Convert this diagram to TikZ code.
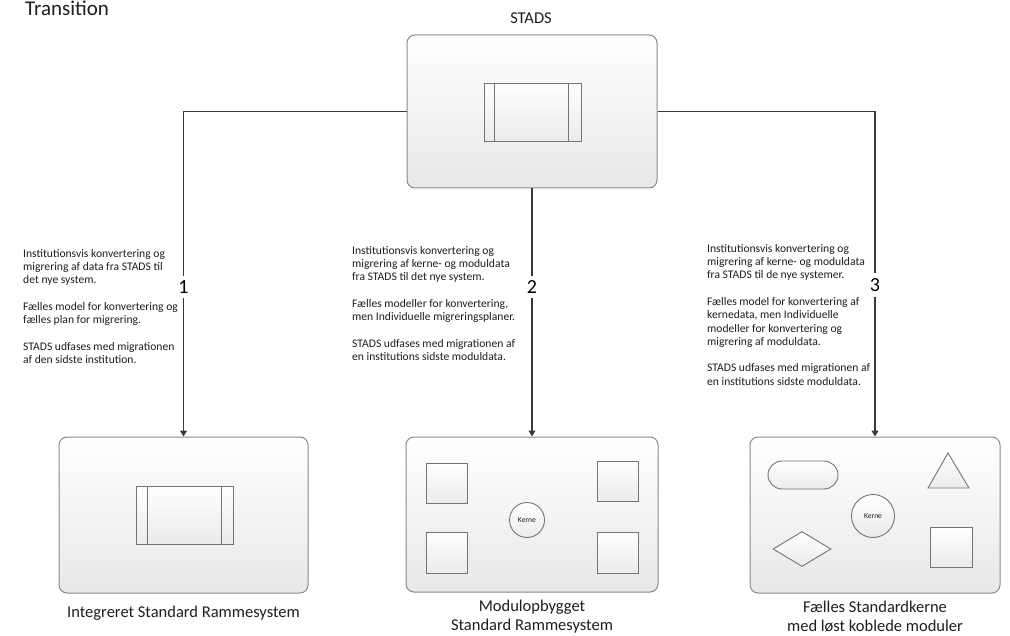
\documentclass[tikz,border=0pt]{standalone}
\usepackage{fontspec}
\setmainfont{Carlito}
\usetikzlibrary{arrows.meta,shapes.geometric,calc}
\definecolor{boxline}{HTML}{8A8A8A}
\definecolor{shapeline}{HTML}{747474}
\definecolor{conn}{HTML}{3A3A3A}
\definecolor{txt}{HTML}{1E1E1E}
\begin{document}
\begin{tikzpicture}[x=1pt,y=-1pt,
  panel/.style={draw=boxline, line width=1pt, rounded corners=8pt,
    top color=white, bottom color=black!9, inner sep=0pt},
  inshape/.style={draw=shapeline, line width=0.9pt, top color=white,
    bottom color=black!8, inner sep=0pt},
  conline/.style={draw=conn, line width=1.2pt, -{Triangle[width=7pt,length=6pt]}},
  numlabel/.style={fill=white, inner xsep=2pt, inner ysep=5pt, text=black, font=\fontsize{20}{22}\selectfont},
  smalltext/.style={anchor=north west, align=left, inner sep=0pt, text=txt,
    font=\fontsize{11.6}{13.3}\selectfont},
  caption/.style={align=center, inner sep=0pt, text=txt,
    font=\fontsize{16.5}{19}\selectfont},
  kerne/.style={circle, inshape, font=\fontsize{7.6}{8}\selectfont, text=txt}]
\useasboundingbox (0,0) rectangle (1010,636);
\fill[white] (0,0) rectangle (1010,636);

% title
\node[anchor=base west, inner sep=0pt, text=txt, font=\fontsize{21}{23}\selectfont] (title) at (25,16) {Transition};

% top box
\node[panel, minimum width=250pt, minimum height=153pt] (stads) at (532,111.5) {};
\node[caption, font=\fontsize{16.5}{18}\selectfont] (stadslbl) at (531,18) {STADS};
\node[inshape, minimum width=97pt, minimum height=58pt] (stadsin) at (532.5,112) {};
\draw[shapeline, line width=0.9pt] ($(stadsin.north west)+(11,0)$) -- ($(stadsin.south west)+(11,0)$);
\draw[shapeline, line width=0.9pt] ($(stadsin.north east)+(-13,0)$) -- ($(stadsin.south east)+(-13,0)$);

% bottom boxes
\node[panel, minimum width=249pt, minimum height=156pt] (box1) at (183.5,515) {};
\node[panel, minimum width=252pt, minimum height=155pt] (box2) at (532,514.5) {};
\node[panel, minimum width=250pt, minimum height=156pt] (box3) at (875,515) {};

% box1 content
\node[inshape, minimum width=97pt, minimum height=58pt] (ir1) at (184.5,515) {};
\draw[shapeline, line width=0.9pt] ($(ir1.north west)+(12,0)$) -- ($(ir1.south west)+(12,0)$);
\draw[shapeline, line width=0.9pt] ($(ir1.north east)+(-12,0)$) -- ($(ir1.south east)+(-12,0)$);

% box2 content
\node[inshape, minimum width=41pt, minimum height=40pt] (sq1) at (446.5,483) {};
\node[inshape, minimum width=41pt, minimum height=40pt] (sq2) at (617.5,481) {};
\node[inshape, minimum width=41pt, minimum height=41pt] (sq3) at (446.5,552.5) {};
\node[inshape, minimum width=41pt, minimum height=41pt] (sq4) at (617.5,552.5) {};
\node[kerne, minimum size=35pt] (k2) at (527,520) {Kerne};

% box3 content
\node[inshape, rounded corners=14pt, minimum width=70pt, minimum height=28pt] (pill) at (803,475) {};
\draw[inshape] (948,453) -- (969,488) -- (928,488) -- cycle;
\node[kerne, minimum size=43pt] (k3) at (873,516) {Kerne};
\node[inshape, diamond, minimum width=58pt, minimum height=35pt] (dia) at (802,549) {};
\node[inshape, minimum width=42pt, minimum height=40pt] (sq5) at (951,547) {};

% captions
\node[caption] (cap1) at (183.5,613) {Integreret Standard Rammesystem};
\node[caption] (cap2) at (532,616.5) {Modulopbygget\\Standard Rammesystem};
\node[caption] (cap3) at (875,616.5) {Fælles Standardkerne\\med løst koblede moduler};

% connectors
\draw[conline] (stads.west) -| (box1.north);
\draw[conline] (stads.south) -- (box2.north);
\draw[conline] (stads.east) -| (box3.north);

\node[numlabel] (n1) at (183.5,287) {1};
\node[numlabel] (n2) at (532,287) {2};
\node[numlabel] (n3) at (875,285) {3};

% descriptions
\node[smalltext] (t1) at (23,249) {Institutionsvis konvertering og\\
migrering af data fra STADS til\\
det nye system.\\[13.3pt]
Fælles model for konvertering og\\
fælles plan for migrering.\\[13.3pt]
STADS udfases med migrationen\\
af den sidste institution.};
\node[smalltext] (t2) at (352,246) {Institutionsvis konvertering og\\
migrering af kerne- og moduldata\\
fra STADS til det nye system.\\[13.3pt]
Fælles modeller for konvertering,\\
men Individuelle migreringsplaner.\\[13.3pt]
STADS udfases med migrationen af\\
en institutions sidste moduldata.};
\node[smalltext] (t3) at (707,244) {Institutionsvis konvertering og\\
migrering af kerne- og moduldata\\
fra STADS til de nye systemer.\\[13.3pt]
Fælles model for konvertering af\\
kernedata, men Individuelle\\
modeller for konvertering og\\
migrering af moduldata.\\[13.3pt]
STADS udfases med migrationen af\\
en institutions sidste moduldata.};
\end{tikzpicture}
\end{document}
